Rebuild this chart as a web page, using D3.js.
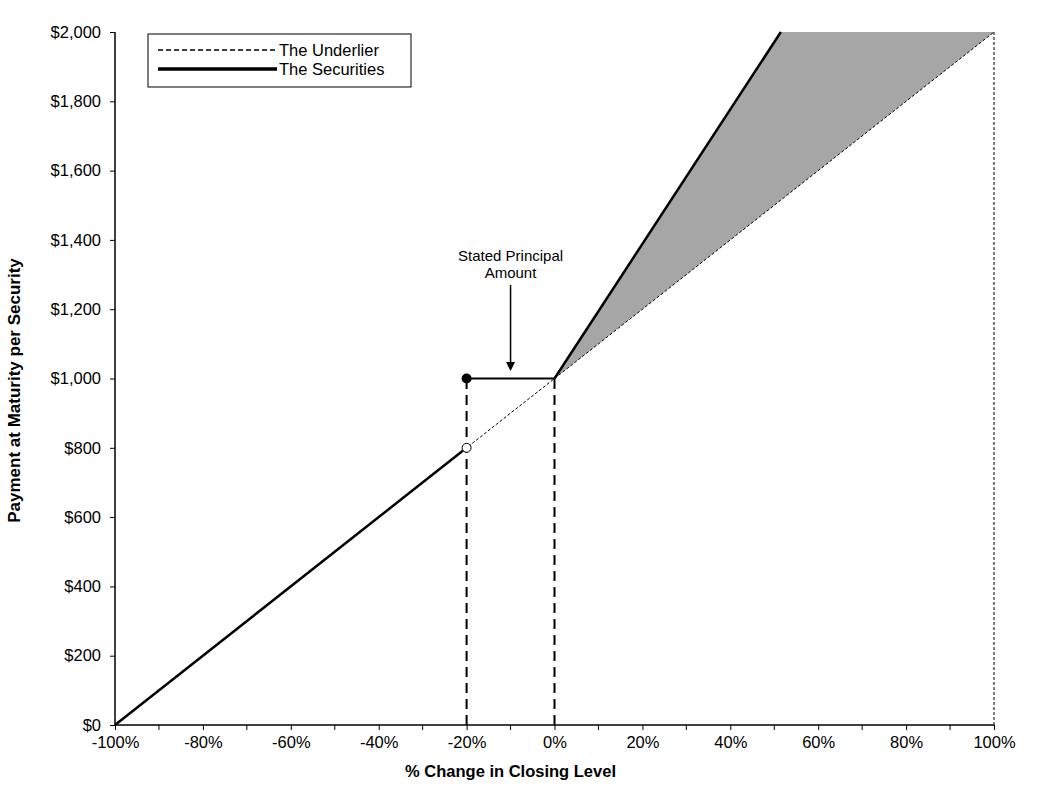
<!DOCTYPE html>
<html>
<head>
<meta charset="utf-8">
<script src="https://cdn.jsdelivr.net/npm/d3@7"></script>
<style>
  body { margin: 0; background: #fff; }
  svg text { font-family: "Liberation Sans", Arial, sans-serif; fill: #000; }
  .tick-label { font-size: 16.5px; }
  .axis-title { font-size: 16.5px; font-weight: bold; }
</style>
</head>
<body>
<svg id="chart"></svg>
<script>
// Data
const xTicks = [-1, -0.8, -0.6, -0.4, -0.2, 0, 0.2, 0.4, 0.6, 0.8, 1];
const xMinorTicks = [-0.9, -0.7, -0.5, -0.3, -0.1, 0.1, 0.3, 0.5, 0.7, 0.9];
const yTicks = [0, 200, 400, 600, 800, 1000, 1200, 1400, 1600, 1800, 2000];

// underlier: 1:1 with the closing level
const underlierX = [-1, 1];
const underlierY = [0, 2000];

// securities payoff, in pieces
const lossX = [-1, -0.2];
const lossY = [0, 800];
const flatX = [-0.2, 0];
const flatY = [1000, 1000];
const upX = [0, 0.515];
const upY = [1000, 2000];

// shaded upside region (securities above underlier)
const shadeX = [0, 0.515, 1];
const shadeTop = [1000, 2000, 2000];
const shadeBottom = [1000, 1515, 2000];

const barrierX = [-0.2, 0];
const barrierTop = 1000;
const openDot = {x: -0.2, y: 800};
const closedDot = {x: -0.2, y: 1000};
const arrow = {x: -0.1, label: ['Stated Principal', 'Amount']};

const W = 1047, H = 792;
const margin = {top: 32, right: 53, bottom: 67, left: 115};
const width = W - margin.left - margin.right;
const height = H - margin.top - margin.bottom;

const svg = d3.select('#chart').attr('width', W).attr('height', H);
const chart = svg.append('g').attr('transform', `translate(${margin.left},${margin.top})`);

const xScale = d3.scaleLinear().domain([-1, 1]).range([0, width]);
const yScale = d3.scaleLinear().domain([0, 2000]).range([height, 0]);

const line = d3.line().x(d => xScale(d[0])).y(d => yScale(d[1]));
const zip = (xs, ys) => xs.map((x, i) => [x, ys[i]]);

// shaded area
const area = d3.area()
    .x(d => xScale(d.x))
    .y0(d => yScale(d.b))
    .y1(d => yScale(d.t));
chart.append('path')
    .datum(shadeX.map((x, i) => ({x: x, t: shadeTop[i], b: shadeBottom[i]})))
    .attr('d', area)
    .attr('fill', '#a6a6a6');

// underlier dashed line
chart.append('path')
    .datum(zip(underlierX, underlierY))
    .attr('d', line)
    .attr('fill', 'none')
    .attr('stroke', '#000')
    .attr('stroke-width', 1)
    .attr('stroke-dasharray', '3,2');

// right edge vertical dashed line
chart.append('line')
    .attr('x1', xScale(1)).attr('x2', xScale(1))
    .attr('y1', yScale(0)).attr('y2', yScale(2000))
    .attr('stroke', '#000')
    .attr('stroke-width', 1)
    .attr('stroke-dasharray', '3,2');

// barrier / principal vertical dashed lines
chart.selectAll('.vdash')
    .data(barrierX)
  .join('line')
    .attr('class', 'vdash')
    .attr('x1', d => xScale(d)).attr('x2', d => xScale(d))
    .attr('y1', yScale(0)).attr('y2', yScale(barrierTop))
    .attr('stroke', '#000')
    .attr('stroke-width', 2)
    .attr('stroke-dasharray', '10,6');

// securities line
[[lossX, lossY, 2.5], [flatX, flatY, 2], [upX, upY, 2.5]].forEach(([xs, ys, w]) => {
  chart.append('path')
      .datum(zip(xs, ys))
      .attr('d', line)
      .attr('fill', 'none')
      .attr('stroke', '#000')
      .attr('stroke-width', w);
});

// dots
chart.append('circle')
    .attr('cx', xScale(closedDot.x)).attr('cy', yScale(closedDot.y))
    .attr('r', 5).attr('fill', '#000');
chart.append('circle')
    .attr('cx', xScale(openDot.x)).attr('cy', yScale(openDot.y))
    .attr('r', 4.5).attr('fill', '#fff')
    .attr('stroke', '#000').attr('stroke-width', 1);

// axes
const xAxis = d3.axisBottom(xScale)
    .tickValues(xTicks)
    .tickSize(5)
    .tickFormat(d3.format('.0%'));
const xAxisG = chart.append('g')
    .attr('transform', `translate(0,${height})`)
    .call(xAxis);
xAxisG.select('.domain').attr('d', `M0,0H${width}`).attr('stroke-width', 1.5);
xAxisG.selectAll('.tick text')
    .attr('class', 'tick-label')
    .attr('y', 6)
    .attr('dy', '1.05em')
    .text(d => d3.format('.0%')(d).replace('−', '-'));
chart.append('g')
    .attr('transform', `translate(0,${height})`)
    .selectAll('line')
    .data(xMinorTicks)
  .join('line')
    .attr('x1', d => xScale(d)).attr('x2', d => xScale(d))
    .attr('y1', 0).attr('y2', 5)
    .attr('stroke', '#000');

const yAxis = d3.axisLeft(yScale)
    .tickValues(yTicks)
    .tickSize(5)
    .tickFormat(d => '$' + d3.format(',')(d));
const yAxisG = chart.append('g').call(yAxis);
yAxisG.select('.domain').attr('d', `M0,${height}V0`).attr('stroke-width', 1.5);
yAxisG.selectAll('.tick text').attr('class', 'tick-label').attr('x', -14);

// axis titles
chart.append('text')
    .attr('class', 'axis-title')
    .attr('x', xScale(-0.1))
    .attr('y', height + 52)
    .attr('text-anchor', 'middle')
    .text('% Change in Closing Level');
chart.append('text')
    .attr('class', 'axis-title')
    .attr('transform', 'rotate(-90)')
    .attr('x', -height / 2 - 12)
    .attr('y', -95)
    .attr('text-anchor', 'middle')
    .style('font-size', '17px')
    .text('Payment at Maturity per Security');

// annotation with arrow
const ax = xScale(arrow.x);
chart.append('text')
    .attr('x', ax).attr('y', 229)
    .attr('text-anchor', 'middle')
    .style('font-size', '15px')
    .selectAll('tspan')
    .data(arrow.label)
  .join('tspan')
    .attr('x', ax)
    .attr('dy', (d, i) => i ? '1.1em' : 0)
    .text(d => d);
chart.append('line')
    .attr('x1', ax).attr('x2', ax)
    .attr('y1', 253).attr('y2', 330)
    .attr('stroke', '#000').attr('stroke-width', 1.5);
chart.append('path')
    .attr('d', `M${ax - 4.5},${330}L${ax + 4.5},${330}L${ax},${339}Z`)
    .attr('fill', '#000');

// legend
const legend = svg.append('g').attr('transform', 'translate(148,34)');
legend.append('rect')
    .attr('width', 263).attr('height', 53)
    .attr('fill', '#fff').attr('stroke', '#000').attr('stroke-width', 1);
const legendItems = [
  {label: 'The Underlier', dash: '5,3', w: 1.5},
  {label: 'The Securities', dash: null, w: 3.5}
];
legendItems.forEach((d, i) => {
  const y = 16 + i * 19;
  legend.append('line')
      .attr('x1', 10).attr('x2', 129)
      .attr('y1', y).attr('y2', y)
      .attr('stroke', '#000')
      .attr('stroke-width', d.w)
      .attr('stroke-dasharray', d.dash);
  legend.append('text')
      .attr('x', 131).attr('y', y + 6)
      .style('font-size', '16.5px')
      .text(d.label);
});
</script>
</body>
</html>
